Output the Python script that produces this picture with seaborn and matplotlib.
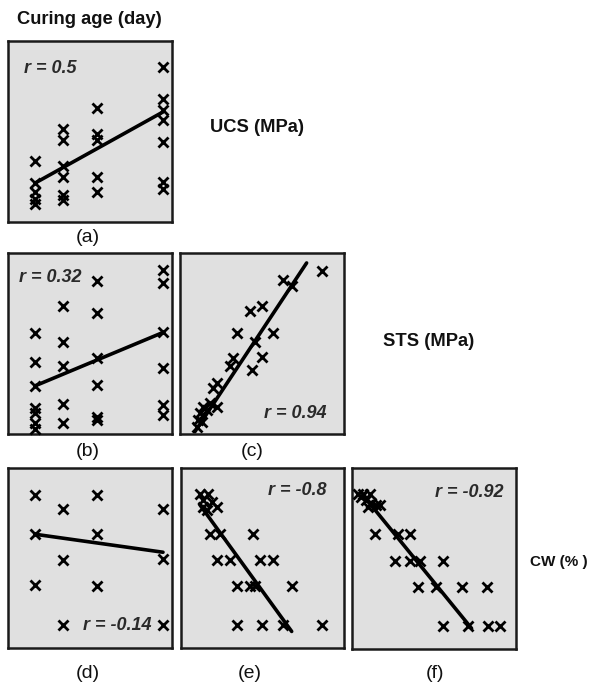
import numpy as np
import pandas as pd
import matplotlib
matplotlib.use("Agg")
import matplotlib.pyplot as plt
import seaborn as sns

# ---------------- data ----------------
# variable limits
age_lim = (-4.7, 29.9)
ucs_lim = (0, 10)
sts_lim = (0, 1)
cw_lim = (0, 50)

# (a) curing age vs UCS
a_age = [1, 1, 1, 1, 1, 7, 7, 7, 7, 7, 7, 14, 14, 14, 14, 14, 28, 28, 28, 28, 28, 28, 28]
a_ucs = [3.37, 2.15, 1.66, 1.29, 1.01, 5.16, 4.51, 3.09, 2.49, 1.47, 1.20,
         6.32, 4.88, 4.51, 2.49, 1.66, 8.56, 6.81, 6.17, 5.62, 4.42, 2.21, 1.84]
a_fit_x = [1, 28]
a_fit_y = [2.15, 6.08]

# (b) curing age vs STS
b_age = [1, 1, 1, 1, 1, 1, 1, 7, 7, 7, 7, 7, 14, 14, 14, 14, 14, 14, 28, 28, 28, 28, 28, 28]
b_sts = [0.557, 0.400, 0.266, 0.142, 0.118, 0.059, 0.026,
         0.705, 0.511, 0.373, 0.166, 0.059,
         0.843, 0.668, 0.419, 0.271, 0.096, 0.077,
         0.908, 0.834, 0.566, 0.363, 0.160, 0.105]
b_fit_x = [1, 28]
b_fit_y = [0.266, 0.561]

# (c) UCS vs STS
c_ucs = [8.64, 6.30, 6.81, 4.27, 4.98, 3.46, 5.69, 4.57, 4.98, 4.37, 3.25, 3.05,
         2.24, 2.03, 1.83, 1.42, 2.24, 1.22, 1.63, 1.12, 1.32, 1.02]
c_sts = [0.899, 0.852, 0.815, 0.677, 0.705, 0.557, 0.557, 0.511, 0.428, 0.354, 0.419, 0.373,
         0.280, 0.253, 0.170, 0.151, 0.151, 0.114, 0.133, 0.077, 0.068, 0.041]
c_fit_x = [0.91, 7.72]
c_fit_y = [0.013, 0.945]

# (d) curing age vs CW
d_age = [1, 1, 1, 7, 7, 7, 14, 14, 14, 28, 28, 28]
d_cw = [42.4, 31.8, 17.5, 38.7, 24.4, 6.5, 42.4, 31.8, 17.1, 38.7, 24.7, 6.5]
d_fit_x = [1, 28]
d_fit_y = [31.6, 26.6]

# (e) UCS vs CW
e_ucs = [1.17, 1.68, 1.37, 1.88, 1.37, 2.19, 1.57,
         1.78, 2.39, 4.44,
         2.19, 3.01, 4.85, 5.66,
         3.42, 4.23, 4.54, 6.79,
         3.42, 4.95, 6.28, 8.63]
e_cw = [42.9, 42.9, 41.1, 40.6, 39.2, 39.2, 38.3,
        31.8, 31.8, 31.8,
        24.4, 24.4, 24.4, 24.4,
        17.1, 17.1, 17.1, 17.1,
        6.3, 6.3, 6.3, 6.3]
e_fit_x = [1.17, 6.79]
e_fit_y = [39.7, 4.6]

# (f) STS vs CW
f_sts = [0.037, 0.067, 0.108, 0.057, 0.088, 0.118, 0.149, 0.169, 0.098,
         0.138, 0.281, 0.352,
         0.261, 0.352, 0.413, 0.556,
         0.403, 0.515, 0.668, 0.821,
         0.556, 0.709, 0.831, 0.902]
f_cw = [42.9, 42.9, 42.9, 42.0, 41.1, 40.2, 39.7, 39.7, 39.2,
        31.7, 31.7, 31.7,
        24.3, 24.3, 24.3, 24.3,
        17.2, 17.2, 17.2, 17.2,
        6.4, 6.4, 6.4, 6.4]
f_fit_x = [0.067, 0.729]
f_fit_y = [42.5, 5.7]

r_labels = ["r = 0.5", "r = 0.32", "r = 0.94", "r = -0.14", "r = -0.8", "r = -0.92"]
panel_labels = ["(a)", "(b)", "(c)", "(d)", "(e)", "(f)"]
var_labels = ["Curing age (day)", "UCS (MPa)", "STS (MPa)", "CW (% )"]

# ---------------- figure ----------------
sns.set_theme(style="white")
plt.rcParams["font.family"] = ["Liberation Sans", "DejaVu Sans"]

W, H = 604, 685
fig = plt.figure(figsize=(W / 100, H / 100), dpi=100)


def ax_at(x0, y0, x1, y1):
    return fig.add_axes([x0 / W, 1 - y1 / H, (x1 - x0) / W, (y1 - y0) / H])


panels = [
    dict(box=(8, 41, 172, 222), x=a_age, y=a_ucs, fx=a_fit_x, fy=a_fit_y, xl=age_lim, yl=ucs_lim,
         r=r_labels[0], rpos=(0.10, 0.85), rha="left"),
    dict(box=(8, 253, 172, 434), x=b_age, y=b_sts, fx=b_fit_x, fy=b_fit_y, xl=age_lim, yl=sts_lim,
         r=r_labels[1], rpos=(0.07, 0.865), rha="left"),
    dict(box=(180, 253, 344, 434), x=c_ucs, y=c_sts, fx=c_fit_x, fy=c_fit_y, xl=ucs_lim, yl=sts_lim,
         r=r_labels[2], rpos=(0.895, 0.115), rha="right"),
    dict(box=(8, 468, 172, 648), x=d_age, y=d_cw, fx=d_fit_x, fy=d_fit_y, xl=age_lim, yl=cw_lim,
         r=r_labels[3], rpos=(0.455, 0.125), rha="left"),
    dict(box=(181, 468, 344, 648), x=e_ucs, y=e_cw, fx=e_fit_x, fy=e_fit_y, xl=ucs_lim, yl=cw_lim,
         r=r_labels[4], rpos=(0.895, 0.875), rha="right"),
    dict(box=(352, 468, 516, 649), x=f_sts, y=f_cw, fx=f_fit_x, fy=f_fit_y, xl=sts_lim, yl=cw_lim,
         r=r_labels[5], rpos=(0.925, 0.865), rha="right"),
]

for p in panels:
    ax = ax_at(*p["box"])
    ax.set_facecolor("#e0e0e0")
    df = pd.DataFrame({"x": p["x"], "y": p["y"]})
    sns.scatterplot(data=df, x="x", y="y", ax=ax, marker="x", s=52, color="black",
                    linewidth=2.0, legend=False, zorder=3, clip_on=False)
    fit = pd.DataFrame({"x": p["fx"], "y": p["fy"]})
    sns.lineplot(data=fit, x="x", y="y", ax=ax, color="black", linewidth=2.6,
                 estimator=None, sort=False, zorder=4)
    ax.set_xlim(*p["xl"])
    ax.set_ylim(*p["yl"])
    ax.set_xticks([])
    ax.set_yticks([])
    ax.set_xlabel("")
    ax.set_ylabel("")
    for sp in ax.spines.values():
        sp.set_visible(True)
        sp.set_color("#1a1a1a")
        sp.set_linewidth(1.8)
    ax.text(p["rpos"][0], p["rpos"][1], p["r"], transform=ax.transAxes,
            ha=p["rha"], va="center", fontsize=13, fontweight="bold",
            fontstyle="italic", color="#2a2a2a", zorder=5)


def ftext(x, y, s, **kw):
    fig.text(x / W, 1 - y / H, s, **kw)


# variable labels
ftext(17, 20, var_labels[0], ha="left", va="center", fontsize=13.2, fontweight="bold", color="#111111")
ftext(210, 128, var_labels[1], ha="left", va="center", fontsize=13.2, fontweight="bold", color="#111111")
ftext(383, 342, var_labels[2], ha="left", va="center", fontsize=13.2, fontweight="bold", color="#111111")
ftext(530, 562, var_labels[3], ha="left", va="center", fontsize=11, fontweight="bold", color="#111111")

# panel labels
for (x, y), lab in zip([(88, 238), (88, 451), (252, 451), (88, 673), (250, 673), (435, 673)], panel_labels):
    ftext(x, y, lab, ha="center", va="center", fontsize=14, color="#111111")

fig.savefig("out.png", dpi=100, facecolor="white")
